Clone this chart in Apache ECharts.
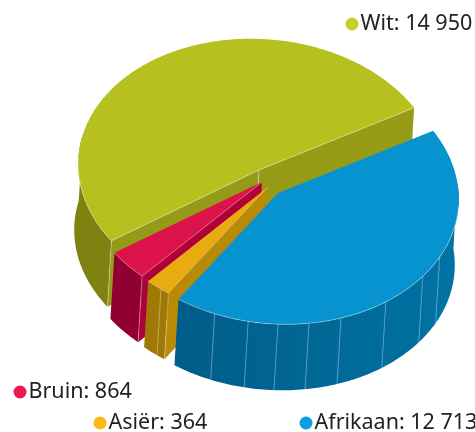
<!DOCTYPE html>
<html>
<head>
<meta charset="utf-8">
<style>
html,body{margin:0;padding:0;background:#fff;}
#main{width:475px;height:432px;}
</style>
<script src="https://cdn.jsdelivr.net/npm/echarts@6/dist/echarts.min.js"></script>
</head>
<body>
<div id="main"></div>
<script>
// painted back to front, counter-clockwise from the Wit/Afrikaan split
const names = ['Wit', 'Bruin', 'Asiër', 'Afrikaan'];
const values = [14950, 864, 364, 12713];
const valueLabels = ['14 950', '864', '364', '12 713'];

const topColors = ['#b6c11f', '#dc134b', '#e8ab10', '#0693cf'];
const cutColors = ['#959b16', '#b0003a', '#b98a05', '#00628f'];
const wallColors = [['#7d8210', '#7d8210'], ['#900030', '#900030'], ['#a07804', '#a07804'], ['#005c88', '#0073a5']];
const legendColors = ['#c4cf27', '#f0174f', '#fdb813', '#0a9fdf'];

// the drawing widens the two thin slices a little, so do we (degrees)
const angleTweak = [-1.9, 2.4, 3.6, -4.1];
const startAngle = 33.8;
const centers = [[259, 170], [262, 182], [268, 187], [278, 193]];
const seams = [[], [], [236.6], [252.4, 263.4, 272.9, 282.8, 293.3, 309.5, 326.1, 336.3]];
const legendPos = [
    {left: 345.5, top: 13},
    {left: 13.5, top: 381},
    {left: 93.5, top: 412},
    {left: 299.5, top: 412}
];

const rx = 181, ry = 131, tilt = 4 * Math.PI / 180, dropX = -4, dropY = 66;
const total = values.reduce((a, b) => a + b, 0);

let from = startAngle;
const ranges = values.map((v, i) => {
    const span = v / total * 360 + angleTweak[i];
    const r = [from, from + span];
    from += span;
    return r;
});

// point on the rim, ellipse turned a bit clockwise
function pt(c, deg) {
    const t = deg * Math.PI / 180;
    const x = rx * Math.cos(t), y = -ry * Math.sin(t);
    return [
        c[0] + x * Math.cos(tilt) - y * Math.sin(tilt),
        c[1] + x * Math.sin(tilt) + y * Math.cos(tilt)
    ];
}
function down(p) {
    return [p[0] + dropX, p[1] + dropY];
}
function arc(c, a, b) {
    const out = [];
    const n = Math.max(2, Math.ceil(Math.abs(b - a)));
    for (let i = 0; i <= n; i++) {
        out.push(pt(c, a + (b - a) * i / n));
    }
    return out;
}
function poly(points, fill) {
    return {type: 'polygon', shape: {points: points}, style: {fill: fill}};
}
function line(points, stroke) {
    return {type: 'polyline', shape: {points: points}, style: {fill: null, stroke: stroke, lineWidth: 1}};
}

function drawSlice(i) {
    const c = centers[i];
    const a0 = ranges[i][0], a1 = ranges[i][1];
    const kids = [];
    const apex = c;
    const light = 'rgba(255,255,255,0.35)';

    // cut faces, only the ones turned to the viewer
    const showStart = Math.cos(a0 * Math.PI / 180) > 0;
    const showEnd = Math.cos(a1 * Math.PI / 180) < 0;
    if (showStart) {
        const p = pt(c, a0);
        kids.push(poly([apex, p, down(p), down(apex)], cutColors[i]));
    }
    if (showEnd) {
        const p = pt(c, a1);
        kids.push(poly([apex, p, down(p), down(apex)], cutColors[i]));
    }
    if (showStart && showEnd) {
        kids.push(line([apex, down(apex)], light));
    }

    // outer wall, front half of the rim only
    const w0 = Math.max(a0, 170), w1 = Math.min(a1, 370);
    if (w1 > w0) {
        const rim = arc(c, w0, w1);
        const wall = rim.concat(rim.map(down).reverse());
        kids.push(poly(wall, new echarts.graphic.LinearGradient(0, 0, 1, 0, [
            {offset: 0, color: wallColors[i][0]},
            {offset: 1, color: wallColors[i][1]}
        ])));
        seams[i].forEach(function (s) {
            const p = pt(c, s);
            kids.push(line([p, down(p)], light));
        });
        if (showEnd) {
            const p = pt(c, a1);
            kids.push(line([p, down(p)], light));
        }
    }

    // top face
    const top = [apex].concat(arc(c, a0, a1));
    kids.push(poly(top, topColors[i]));
    kids.push(line(arc(c, Math.max(a0, 180), Math.min(a1, 360)), light));
    if (showStart) {
        kids.push(line([apex, pt(c, a0)], light));
    }
    if (showEnd) {
        kids.push(line([apex, pt(c, a1)], light));
    }
    return {type: 'group', children: kids};
}

const chart = echarts.init(document.getElementById('main'));
chart.setOption({
    animation: false,
    legend: names.map((name, i) => ({
        left: legendPos[i].left,
        top: legendPos[i].top,
        padding: 0,
        itemWidth: 13,
        itemHeight: 13,
        icon: 'circle',
        selectedMode: false,
        data: [{name: name, itemStyle: {color: legendColors[i]}}],
        formatter: () => name + ': ' + valueLabels[i],
        textStyle: {
            fontFamily: '"Noto Sans"',
            fontSize: 21.5,
            color: '#222',
            padding: [0, 0, 0, -3]
        }
    })),
    series: names.map((name, i) => ({
        type: 'custom',
        name: name,
        coordinateSystem: 'none',
        silent: true,
        itemStyle: {color: topColors[i]},
        data: [[values[i]]],
        renderItem: () => drawSlice(i)
    }))
});
window.addEventListener('resize', function () {
    chart.resize();
});
</script>
</body>
</html>
